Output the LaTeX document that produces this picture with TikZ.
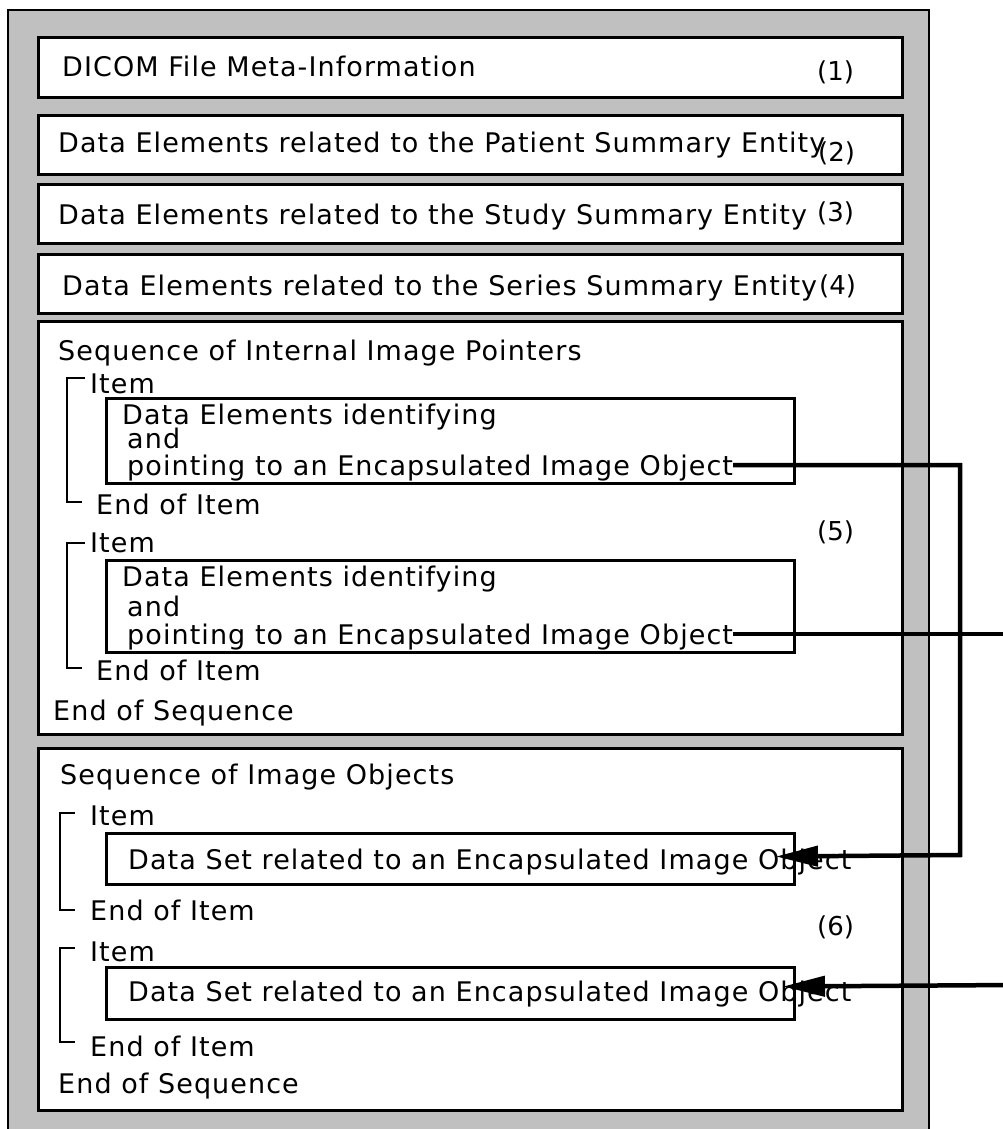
\documentclass[tikz,border=0pt]{standalone}
\usepackage{fontspec}
\setmainfont{DejaVu Sans}
\usepackage{tikz}
\usepackage{xcolor}
\usetikzlibrary{arrows.meta}
\definecolor{vgray}{HTML}{c0c0c0}
\definecolor{vdark}{HTML}{000000}
\newfontfamily\entryfont[LetterSpace=4]{DejaVu Sans}

\tikzset{
	entry/.style={anchor=west, inner sep=0, text height=20pt, text depth=0pt, font={\entryfont\fontsize{27}{32}\selectfont}},
	tag/.style={anchor=west, inner sep=0, text height=20pt, text depth=0pt, font={\fontsize{26}{30}\selectfont}},
	part/.style={draw=vdark, line width=3pt, fill=white, anchor=north west, inner sep=0, minimum width=864},
	subpart/.style={draw=vdark, line width=3pt, fill=white, anchor=north west, inner sep=0, minimum width=688},
	bracket/.style={draw=vdark, line width=2.5pt},
	link/.style={draw=vdark, line width=4.5pt},
	pointer/.style={link, -{Triangle[length=42pt,width=20pt]}}
}

\begin{document}
\begin{tikzpicture}[x=1pt, y=-1pt]
		\useasboundingbox (0,0) rectangle (1003,1129);
		\draw[fill=vgray, line width=2.5pt, draw=vdark] (8,10) rectangle (929,1145);

		\node[part, minimum height=60] (metabox) at (37,36) {};
		\node[part, minimum height=59] (patbox) at (37,114) {};
		\node[part, minimum height=59] (studybox) at (37,183) {};
		\node[part, minimum height=59] (seriesbox) at (37,253) {};
		\node[part, minimum height=413] (ptrseqbox) at (37,320) {};
		\node[part, minimum height=362] (imgseqbox) at (37,747) {};

		\node[entry] (meta) at (62,67) {DICOM File Meta-Information};
		\node[tag] (tag1) at (817,71) {(1)};
		\node[entry] (patient) at (58,143) {Data Elements related to the Patient Summary Entity};
		\node[tag] (tag2) at (818,151) {(2)};
		\node[entry] (study) at (58,214) {Data Elements related to the Study Summary Entity};
		\node[tag] (tag3) at (817,211) {(3)};
		\node[entry] (series) at (62,285) {Data Elements related to the Series Summary Entity};
		\node[tag] (tag4) at (819,284) {(4)};

		\node[entry] (ptrseq) at (58,350) {Sequence of Internal Image Pointers};
		\draw[bracket] (85,378) -- (67,378) -- (67,502) -- (82,502);
		\node[entry] (itemA) at (90,383) {Item};
		\node[subpart, minimum height=85] (ptrboxA) at (105,397) {};
		\node[entry] (idA) at (122,414) {Data Elements identifying};
		\node[entry] (andA) at (127,438) {and};
		\node[entry] (ptrA) at (127,465) {pointing to an Encapsulated Image Object};
		\node[entry] (enditemA) at (96,504) {End of Item};
		\draw[bracket] (85,543) -- (67,543) -- (67,668) -- (82,668);
		\node[entry] (itemB) at (90,542) {Item};
		\node[subpart, minimum height=92] (ptrboxB) at (105,559) {};
		\node[entry] (idB) at (122,576) {Data Elements identifying};
		\node[entry] (andB) at (127,606) {and};
		\node[entry] (ptrB) at (127,634) {pointing to an Encapsulated Image Object};
		\node[entry] (enditemB) at (96,670) {End of Item};
		\node[entry] (endptrseq) at (53,710) {End of Sequence};
		\node[tag] (tag5) at (817,530) {(5)};

		\node[entry] (imgseq) at (60,774) {Sequence of Image Objects};
		\draw[bracket] (75,813) -- (60,813) -- (60,910) -- (75,910);
		\node[entry] (itemC) at (90,815) {Item};
		\node[subpart, minimum height=51] (setboxC) at (105,832) {};
		\node[entry] (setC) at (128,859) {Data Set related to an Encapsulated Image Object};
		\node[entry] (enditemC) at (90,910) {End of Item};
		\draw[bracket] (75,948) -- (60,948) -- (60,1042) -- (75,1042);
		\node[entry] (itemD) at (90,951) {Item};
		\node[subpart, minimum height=52] (setboxD) at (105,966) {};
		\node[entry] (setD) at (128,991) {Data Set related to an Encapsulated Image Object};
		\node[entry] (enditemD) at (90,1046) {End of Item};
		\node[entry] (endimgseq) at (58,1083) {End of Sequence};
		\node[tag] (tag6) at (817,925) {(6)};

		\coordinate (railA) at (960,855);
		\coordinate (edgeB) at (1012,636);
		\coordinate (edgeD) at (1012,985);
		\draw[pointer] (ptrA.east) -| (railA) -- ([xshift=-20pt,yshift=2.5pt]setboxC.east);
		\draw[link] (ptrB.east) -- (ptrB.east -| edgeB);
		\draw[pointer] (edgeD) -- ([xshift=-13pt,yshift=7pt]setboxD.east);
	\end{tikzpicture}
\end{document}
